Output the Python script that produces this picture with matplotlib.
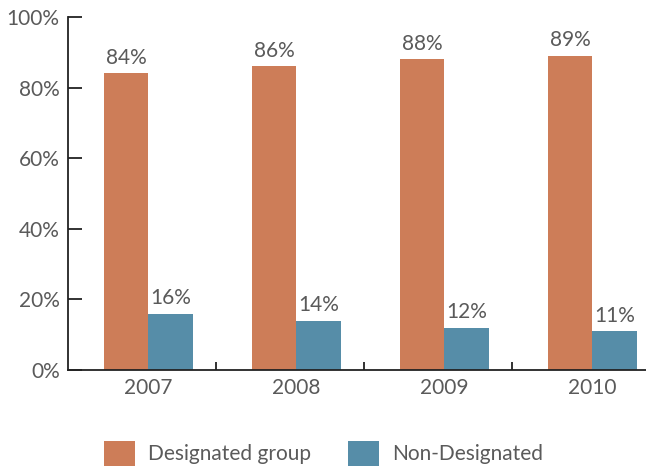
import numpy as np
import matplotlib.pyplot as plt

years = ["2007", "2008", "2009", "2010"]
designated = [84, 86, 88, 89]
non_designated = [16, 14, 12, 11]
y_ticks = [0, 20, 40, 60, 80, 100]

orange = "#CD7D58"
blue = "#568DA8"
text_color = "#5a5a5a"

plt.rcParams["font.family"] = ["Lato", "DejaVu Sans"]

fig = plt.figure(figsize=(6.46, 4.67), dpi=100)
ax = fig.add_axes([68 / 646, 97 / 467, 578 / 646, 353 / 467])

x = np.arange(len(years))
width = 0.30
offset = -0.107

bars1 = ax.bar(x + offset, designated, width, color=orange, label="Designated group")
bars2 = ax.bar(x + offset + width, non_designated, width, color=blue, label="Non-Designated")

for bars, vals in ((bars1, designated), (bars2, non_designated)):
    for b, v in zip(bars, vals):
        ax.annotate(f"{v}%", (b.get_x() + b.get_width() / 2, v),
                    xytext=(0, 4), textcoords="offset points",
                    ha="center", va="bottom", fontsize=15, color=text_color)

ax.set_ylim(0, 100)
ax.set_xlim(-0.5, (646 - 142) / 148)
ax.set_yticks(y_ticks)
ax.set_yticklabels([f"{t}%" for t in y_ticks], fontsize=15, color=text_color)
ax.tick_params(axis="y", direction="in", length=10, width=1.3, color="#222222", pad=6)

# category separators as minor ticks, labels sit under the bar pairs
ax.set_xticks(x + offset + width / 2)
ax.set_xticklabels(years, fontsize=15, color=text_color)
ax.set_xticks(x[:-1] + 0.5, minor=True)
ax.tick_params(axis="x", which="major", length=0, pad=6)
ax.tick_params(axis="x", which="minor", direction="in", length=6, width=1.3, color="#222222")

for side in ("top", "right"):
    ax.spines[side].set_visible(False)
for side in ("left", "bottom"):
    ax.spines[side].set_linewidth(1.3)
    ax.spines[side].set_color("#222222")

fig.legend(handles=[bars1, bars2], loc="lower left", bbox_to_anchor=(85 / 646, -18 / 467),
           ncol=2, frameon=False, fontsize=15, handlelength=1.5, handleheight=1.5,
           handletextpad=0.6, columnspacing=1.8, labelcolor=text_color)

fig.savefig("out.png", dpi=100)
